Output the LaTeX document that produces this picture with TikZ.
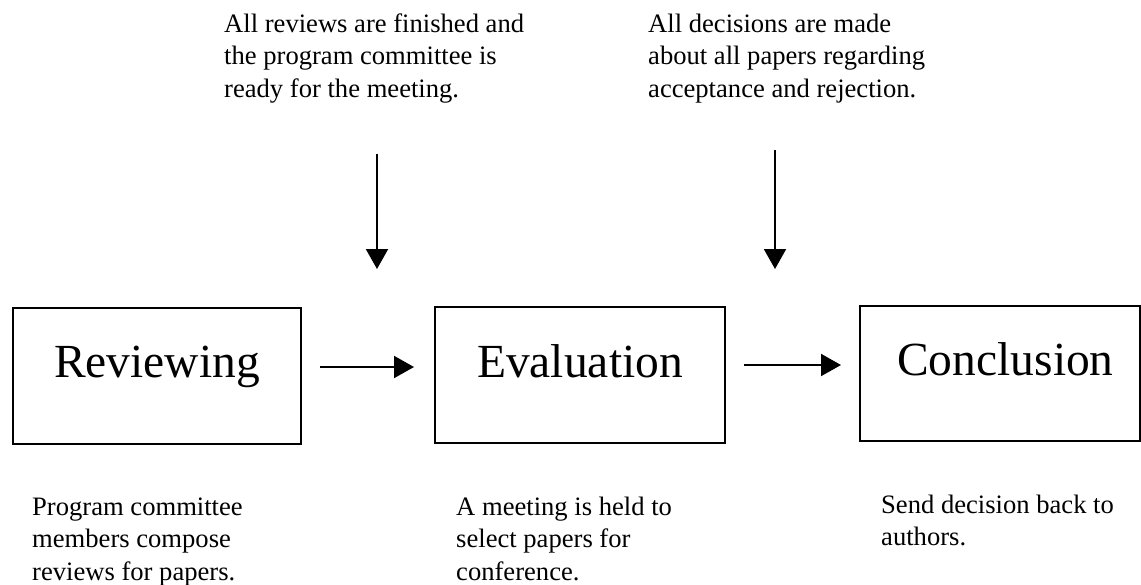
\documentclass[tikz,border=0pt]{standalone}
\usepackage{fontspec}
\setmainfont{Liberation Serif}
\usetikzlibrary{arrows.meta}
\begin{document}
\begin{tikzpicture}[x=1pt,y=-1pt,
  stage/.style={draw,line width=2pt,minimum width=#1,minimum height=136pt,
    inner sep=0pt,font=\fontsize{47.5}{50}\selectfont,
    text height=0.7em,text depth=0.22em},
  note/.style={anchor=base west,inner sep=0pt,
    font=\fontsize{26.6}{32.5}\selectfont},
  flow/.style={line width=2pt,-{Triangle[width=22pt,length=20pt]}}]
\useasboundingbox (0,0) rectangle (1141,584);

% the three stages
\node[stage=288pt] (rev)  at (157,375.5) {Reviewing};
\node[stage=290pt] (eva)  at (580,375)   {Evaluation};
\node[stage=280pt,minimum height=135pt] (conc) at (1000,373.5) {\hspace*{11pt}Conclusion};

% flow between stages
\draw[flow] ([shift={(18,-8.5)}]rev.east) -- ([shift={(-20,-8)}]eva.west);
\draw[flow] ([shift={(18,-10)}]eva.east) -- ([shift={(-18,-8.5)}]conc.west);

% triggering conditions
\node[note] (c1) at (224,32) {\parbox[t]{330pt}{All reviews are finished and\\the program committee is\\ready for the meeting.}};
\node[note] (c2) at (648,32) {\parbox[t]{330pt}{All decisions are made\\about all papers regarding\\acceptance and rejection.}};

\coordinate (c1from) at (377,154);
\coordinate (c1to)   at (377,269);
\coordinate (c2from) at (775,150);
\coordinate (c2to)   at (775,269);
\draw[flow] (c1from) -- (c1to);
\draw[flow] (c2from) -- (c2to);

% stage descriptions
\node[note] (d1) at (32,515)  {\parbox[t]{300pt}{Program committee\\members compose\\reviews for papers.}};
\node[note] (d2) at (456,515) {\parbox[t]{300pt}{A meeting is held to\\select papers for\\conference.}};
\node[note] (d3) at (881,513) {\parbox[t]{260pt}{Send decision back to\\authors.}};
\end{tikzpicture}
\end{document}
